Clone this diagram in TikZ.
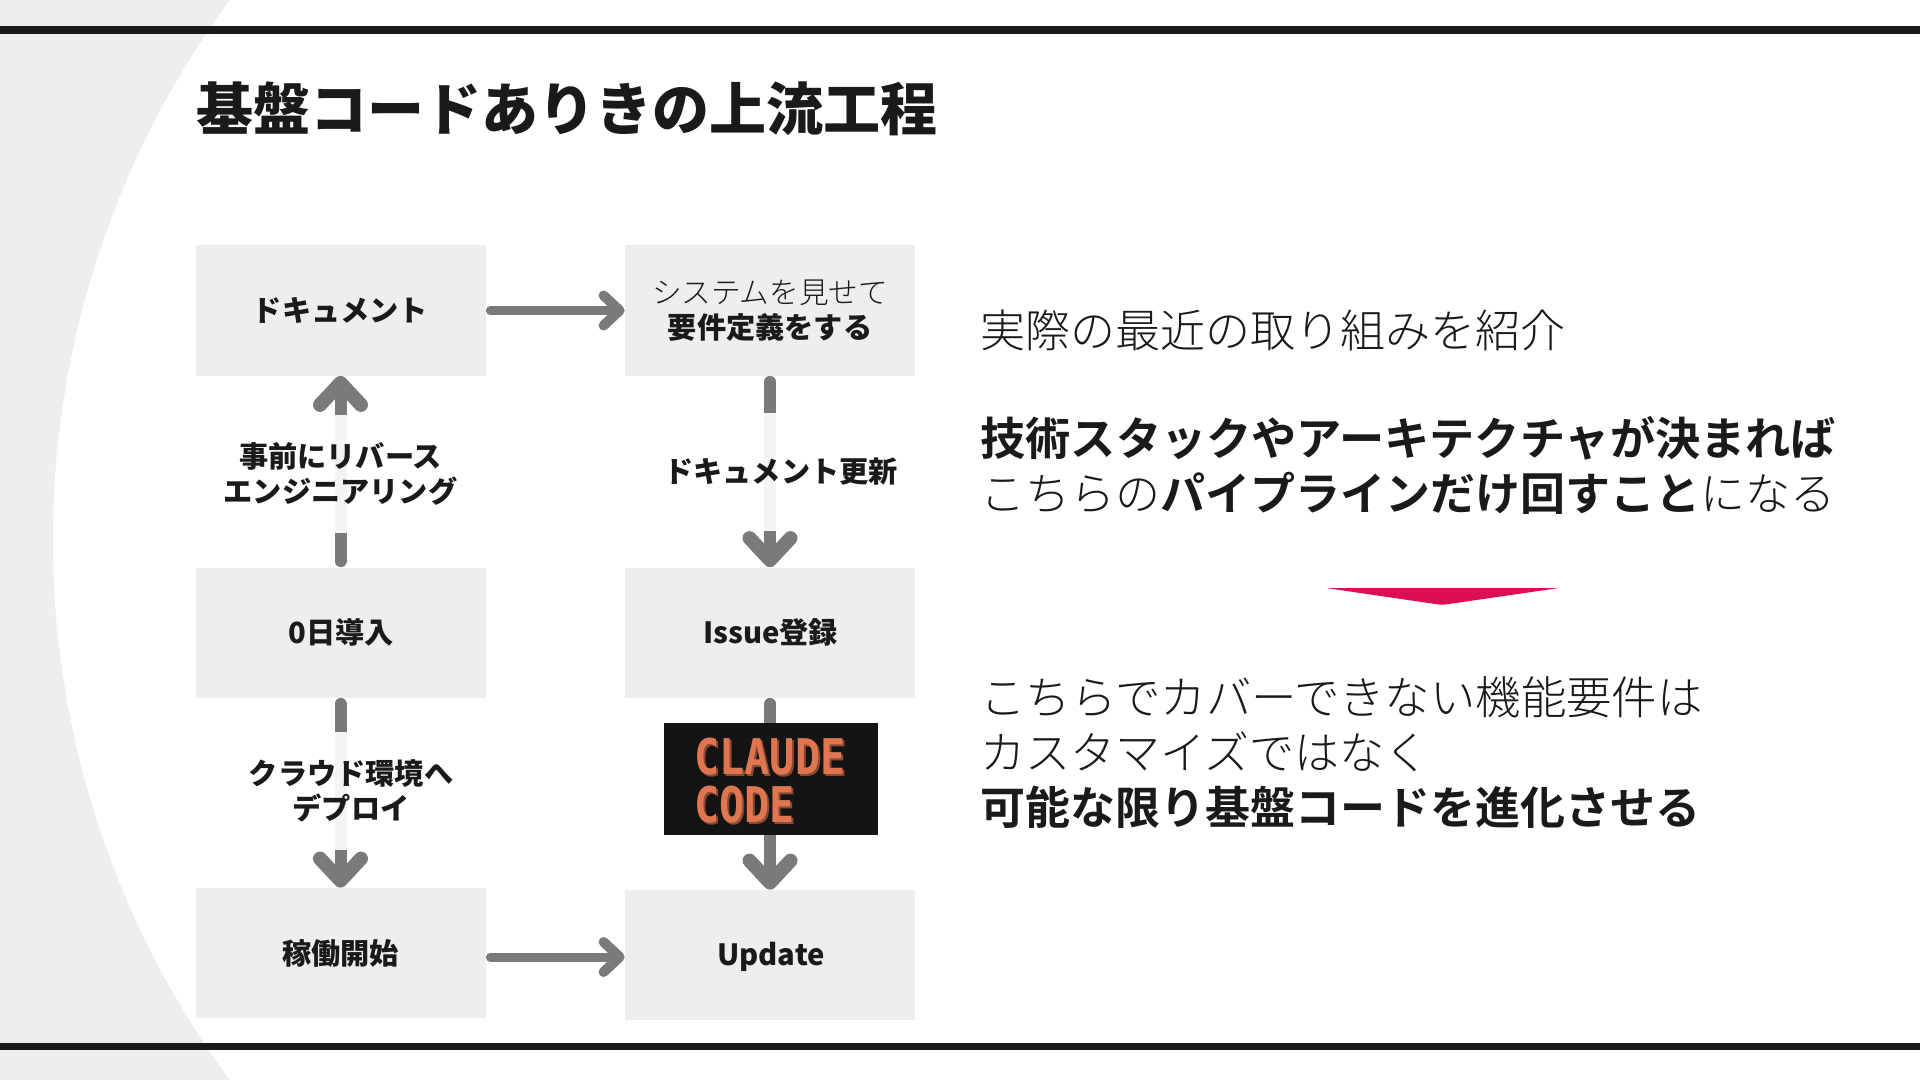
\documentclass[tikz,border=0pt]{standalone}
\usepackage{fontspec}
\usetikzlibrary{arrows.meta}
\setmainfont{Noto Sans CJK JP}
\newfontfamily\lightf{Noto Sans CJK JP Light}
\newfontfamily\blackf{Noto Sans CJK JP Black}
\newfontfamily\pixf[FakeStretch=0.85]{DejaVu Sans Mono Bold}
\definecolor{ink}{HTML}{1A1A1A}
\definecolor{pale}{HTML}{EEEEEE}
\definecolor{arrowgray}{HTML}{7A7A7A}
\definecolor{accent}{HTML}{DC0F55}
\definecolor{termbg}{HTML}{141414}
\definecolor{termfg}{HTML}{E07650}
\definecolor{termsh}{HTML}{8A4A33}
\tikzset{
  flowbox/.style={fill=pale,draw=none,minimum width=145pt,minimum height=65pt,inner sep=0pt,text=ink,align=center,font=\fontsize{14.6}{17.2}\selectfont\bfseries},
  flowarrow/.style={draw=arrowgray,line width=6pt,line cap=round,shorten <=3pt,-{Straight Barb[round,length=11pt,width=20.5pt,line width=7pt]}},
  sidearrow/.style={draw=arrowgray,line width=4.5pt,line cap=round,shorten <=2.25pt,-{Straight Barb[round,length=8pt,width=15pt,line width=5pt]}},
  flowlabel/.style={fill=white,fill opacity=.92,text opacity=1,text=ink,inner sep=0pt,align=center,font=\fontsize{14.6}{17.2}\selectfont\bfseries},
  bodytext/.style={anchor=west,inner sep=0pt,align=left,text=ink,font=\fontsize{22.5}{27.3}\selectfont\lightf},
  termtext/.style={anchor=west,inner sep=0pt,align=left,font=\fontsize{24.6}{24}\selectfont\pixf},
}
\begin{document}
\begin{tikzpicture}[x=0.5pt,y=-0.5pt]
\useasboundingbox (0,0) rectangle (1920,1080);
\fill[pale] (0,0) rectangle (1920,1080);
\fill[white] (965,540) circle[radius=912];
\fill[white] (965,0) rectangle (1920,1080);
\fill[ink] (0,26) rectangle (1920,34);
\fill[ink] (0,1043) rectangle (1920,1050);
\node[anchor=west,inner sep=0pt,text=ink,font=\fontsize{28.5}{32}\selectfont\blackf] (title) at (196,109) {基盤コードありきの上流工程};
\node[flowbox] (doc) at (340.5,310.5) {ドキュメント};
\node[flowbox] (req) at (770,310.5) {{\mdseries\lightf\fontsize{14.8}{17.2}\selectfont システムを見せて}\\\raisebox{-0.5pt}{要件定義をする}};
\node[flowbox] (zero) at (340.5,632.5) {\hspace{1pt}0日導入};
\node[flowbox] (issue) at (770,632.5) {\hspace{0.5pt}Issue登録};
\node[flowbox] (run) at (340.5,953) {稼働開始};
\node[flowbox] (upd) at (770,955) {\hspace{1pt}\raisebox{-5.35pt}[0pt][0pt]{Update}};
\draw[sidearrow] (doc.east) -- (req.west);
\draw[flowarrow] (zero.north) -- (doc.south);
\draw[flowarrow] (req.south) -- (issue.north);
\draw[flowarrow] (run.north |- zero.south) -- (run.north);
\draw[flowarrow] (issue.south) -- (upd.north);
\draw[sidearrow] ([yshift=-1pt]run.east |- upd.west) -- ([yshift=-1pt]upd.west);
\node[flowlabel,minimum width=120pt,minimum height=59pt] (l1) at (340.5,474) {事前にリバース\\エンジニアリング};
\node[flowlabel,minimum width=100pt,minimum height=59pt] (l2) at (781,472) {ドキュメント更新};
\node[flowlabel,minimum width=100pt,minimum height=59pt] (l3) at (351,791) {クラウド環境へ\\デプロイ};
\node[fill=termbg,minimum width=107pt,minimum height=56pt,inner sep=0pt] (term) at (771,779) {};
\node[termtext,text=termsh] (ts) at (696,783) {CLAUDE\\CODE};
\node[termtext,text=termfg] (tx) at (694,781) {CLAUDE\\CODE};
\node[bodytext] (p1) at (980,330) {実際の最近の取り組みを紹介};
\node[bodytext] (p2) at (980,465.5) {{\bfseries\fontsize{22.6}{27.3}\selectfont 技術スタックやアーキテクチャが決まれば}\\こちらの{\bfseries パイプラインだけ回すこと}になる};
\fill[accent,rounded corners=1pt] (1326,588) -- (1559,588) -- (1442,605) -- cycle;
\node[bodytext] (p3) at (980,752.5) {{\fontsize{22.7}{27.3}\selectfont こちらでカバーできない機能要件は}\\カスタマイズではなく\\{\bfseries 可能な限り基盤コードを進化させる}};
\end{tikzpicture}
\end{document}
